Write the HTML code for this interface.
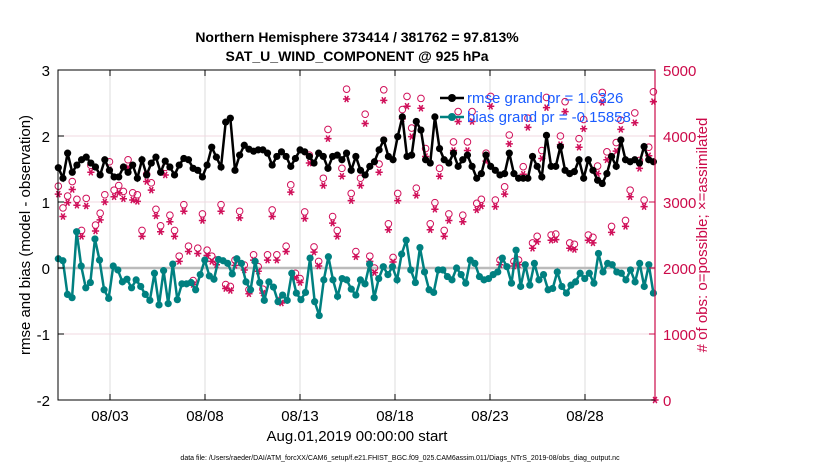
<!DOCTYPE html>
<html><head><meta charset="utf-8"><style>
body{margin:0;background:#fff;}
svg{display:block;font-family:"Liberation Sans",sans-serif;}
</style></head><body>
<svg id="chart" width="830" height="470" viewBox="0 0 830 470" xmlns="http://www.w3.org/2000/svg">
<text x="357" y="42" text-anchor="middle" font-size="14" font-weight="bold">Northern Hemisphere 373414 / 381762 = 97.813%</text>
<text x="357" y="61" text-anchor="middle" font-size="14" font-weight="bold">SAT_U_WIND_COMPONENT @ 925 hPa</text>
<g id="grid"></g>
<g id="marks"></g>
<g id="axes"></g>
<g>
<line x1="440" y1="98" x2="464" y2="98" stroke="#000" stroke-width="2.5"/><circle cx="452" cy="98" r="4" fill="#000"/>
<text x="467" y="103" font-size="15" fill="#1a5cff">rmse grand pr = 1.6326</text>
<line x1="440" y1="117" x2="464" y2="117" stroke="#008080" stroke-width="2.5"/><circle cx="452" cy="117" r="4" fill="#008080"/>
<text x="467" y="122" font-size="15" fill="#1a5cff">bias grand pr = -0.15858</text>
</g>
<text transform="translate(30,235) rotate(-90)" text-anchor="middle" font-size="15">rmse and bias (model - observation)</text>
<text transform="translate(707,235) rotate(-90)" text-anchor="middle" font-size="15" fill="#cc0a4a"># of obs: o=possible; ×=assimilated</text>
<text x="357" y="441" text-anchor="middle" font-size="15">Aug.01,2019 00:00:00 start</text>
<text x="400" y="460" text-anchor="middle" font-size="7">data file: /Users/raeder/DAI/ATM_forcXX/CAM6_setup/f.e21.FHIST_BGC.f09_025.CAM6assim.011/Diags_NTrS_2019-08/obs_diag_output.nc</text>
</svg>
<script>
const rmse=[1.52,1.36,1.74,1.45,1.56,1.64,1.68,1.59,1.53,1.41,1.64,1.48,1.38,1.38,1.53,1.45,1.56,1.36,1.64,1.41,1.59,1.68,1.45,1.62,1.53,1.41,1.56,1.66,1.64,1.51,1.48,1.38,1.56,1.83,1.68,1.53,2.21,2.27,1.48,1.71,1.86,1.80,1.77,1.79,
1.79,1.74,1.56,1.69,1.76,1.69,1.54,1.66,1.79,1.76,1.69,1.59,1.74,1.69,1.51,1.69,1.71,1.64,1.74,1.48,1.69,1.48,1.41,1.54,1.61,1.79,1.94,1.69,1.64,1.99,2.29,1.69,1.71,2.22,2.09,1.64,1.59,2.29,1.81,1.64,1.59,1.74,1.54,
1.64,1.71,1.54,1.36,1.43,1.71,1.54,1.48,1.41,1.43,1.74,1.43,1.36,1.36,1.36,1.69,1.54,1.38,2.01,1.54,1.54,1.84,1.48,1.43,1.46,1.64,1.36,1.64,1.48,1.33,1.28,1.43,1.69,1.54,1.94,1.64,1.61,1.64,1.59,1.84,1.64,1.61];
const bias=[0.14,0.11,-0.40,-0.45,0.55,0.03,-0.30,-0.22,0.44,0.12,-0.33,-0.46,0.03,-0.03,-0.21,-0.17,-0.30,-0.18,-0.28,-0.40,-0.49,-0.08,-0.56,-0.04,-0.54,0.06,-0.48,-0.24,-0.24,-0.22,-0.33,-0.10,0.12,-0.12,-0.17,0.13,0.11,0.07,-0.09,0.14,0.07,-0.21,-0.33,
0.10,-0.22,-0.49,-0.21,-0.29,-0.51,-0.41,-0.49,-0.08,-0.38,-0.48,-0.37,0.15,-0.51,-0.72,-0.18,0.17,-0.18,-0.43,-0.16,-0.18,-0.32,-0.41,-0.18,-0.24,0.06,-0.45,-0.16,0.02,-0.10,0.02,-0.18,0.21,0.42,-0.03,-0.22,0.31,-0.06,-0.33,-0.37,-0.03,-0.03,-0.13,-0.18,
0.0,-0.10,-0.23,0.12,0.07,-0.13,-0.18,-0.16,-0.10,-0.06,0.15,0.02,-0.23,0.27,-0.28,0.05,-0.26,0.07,-0.18,-0.10,-0.33,-0.31,-0.06,-0.28,-0.38,-0.26,-0.21,-0.08,-0.16,-0.08,-0.23,0.22,-0.06,0.07,0.05,-0.06,-0.08,-0.18,-0.03,-0.21,0.07,-0.28,0.05,-0.38];
const possible=[3240,2910,3090,3310,3040,2570,3055,3555,2650,2830,3110,3610,3180,3250,3160,3640,3140,3110,2570,3420,3290,2890,2640,3525,2800,2570,2180,2960,2330,1810,2300,2820,2270,2180,2120,2960,1750,1720,2120,2860,2045,1670,2200,
2020,1680,2200,2880,2200,1525,2330,3260,1920,1840,2850,3710,2320,2100,3360,4100,2780,2570,3510,4710,3130,2250,3360,4330,2180,2000,3575,4700,2670,2160,3130,4400,4600,4120,3210,4570,3810,2670,2990,3510,2570,2820,3910,4370,
2800,3910,4370,2980,3040,3740,4600,3030,2120,3230,4015,2100,2120,3535,4270,2380,2480,3780,4585,2500,2515,4000,4520,2380,2360,3960,4250,2500,2465,3545,4660,3760,2630,3900,4240,2720,3180,4350,3630,3030,3830,4670];
const assimilated=[3120,2780,2990,3190,2950,2480,2940,3450,2560,2730,3000,3490,3080,3140,3050,3520,3030,3010,2480,3310,3180,2790,2550,3410,2700,2480,2100,2860,2250,1750,2220,2720,2190,2100,2050,2860,1690,1660,2040,2760,1970,1610,2120,
1950,1620,2120,2780,2120,1470,2250,3150,1850,1780,2750,3590,2240,2030,3250,3960,2680,2480,3390,4560,3020,2170,3250,4190,2100,1930,3450,4540,2580,2090,3020,4260,4450,3990,3100,4420,3690,2580,2890,3390,2480,2720,3780,4220,
2700,3780,4220,2880,2940,3620,4450,2930,2050,3120,3880,2030,2050,3420,4130,2300,2400,3660,4430,2420,2430,3870,4370,2300,2280,3830,4110,2420,2380,3430,4510,3640,2540,3770,4100,2630,3080,4200,3510,2930,3700,4520,0];
const dateTicks=["08/03","08/08","08/13","08/18","08/23","08/28"];
const dateTickDays=[2,7,12,17,22,27];
const leftTicks=[3,2,1,0,-1,-2];
const rightTicks=[0,1000,2000,3000,4000,5000];

const L=58,R=655,T=70,B=400;
const tStart=-0.72,tEnd=30.6;
const xDay=d=>72+19*d;
const yL=v=>T+(3-v)/5*(B-T);
const yR=v=>B-v/5000*(B-T);
const NS="http://www.w3.org/2000/svg";
function mk(tag,parent,attrs){const e=document.createElementNS(NS,tag);for(const k in attrs)e.setAttribute(k,attrs[k]);parent.appendChild(e);return e;}
const grid=document.getElementById('grid'),marks=document.getElementById('marks'),axes=document.getElementById('axes');
mk('rect',grid,{x:L,y:T,width:R-L,height:B-T,fill:'#fff'});
dateTickDays.forEach((d,i)=>{
 const g=mk('line',grid,{x1:xDay(d),x2:xDay(d),y1:T,y2:B,stroke:'#dcdcdc','stroke-width':1});
 
 
 mk('line',axes,{x1:xDay(d),x2:xDay(d),y1:B,y2:B-6,stroke:'#000'});
 mk('line',axes,{x1:xDay(d),x2:xDay(d),y1:T,y2:T+6,stroke:'#000'});
 const t=mk('text',axes,{x:xDay(d),y:B+21,'text-anchor':'middle','font-size':15});
 t.textContent=dateTicks[i];
 
 
});
rightTicks.forEach(v=>{
 if(v>0&&v<5000){const g=mk('line',grid,{x1:L,x2:R,y1:yR(v),y2:yR(v),stroke:'#f0d8e0','stroke-width':1});
 
 }
 mk('line',axes,{x1:R,x2:R-6,y1:yR(v),y2:yR(v),stroke:'#cc0a4a'});
 const t=mk('text',axes,{x:R+8,y:yR(v)+6,'font-size':15,fill:'#cc0a4a'});
 t.textContent=v;
 
 
});
leftTicks.forEach(v=>{
 mk('line',axes,{x1:L,x2:L+6,y1:yL(v),y2:yL(v),stroke:'#000'});
 const t=mk('text',axes,{x:L-8,y:yL(v)+6,'text-anchor':'end','font-size':15});
 t.textContent=v;
 
 
});
const zl=mk('line',grid,{x1:L,x2:R,y1:yL(0),y2:yL(0),stroke:'#bbb','stroke-width':2.5});


const tx=(i,n)=>xDay(tStart+(tEnd-tStart)*i/(n-1));
possible.forEach((v,i)=>{
 const c=mk('circle',marks,{cx:tx(i,possible.length),cy:yR(v),r:3.3,fill:'none',stroke:'#d0105a','stroke-width':1});
 
 
});
assimilated.forEach((v,i)=>{
 const x=(i===assimilated.length-1)?R:tx(i,assimilated.length-1),y=yR(v),s=3.6,h=s*0.87,q=s*0.5;
 const p=mk('path',marks,{d:`M${x-s},${y}H${x+s}M${x-q},${y-h}L${x+q},${y+h}M${x+q},${y-h}L${x-q},${y+h}`,stroke:'#d0105a','stroke-width':1.5,fill:'none'});
 
 
});
function series(arr,color,name){
 const n=arr.length;
 const p=mk('polyline',marks,{points:arr.map((v,i)=>tx(i,n)+','+yL(v)).join(' '),fill:'none',stroke:color,'stroke-width':2.5});
 
 
 arr.forEach((v,i)=>{
  const c=mk('circle',marks,{cx:tx(i,n),cy:yL(v),r:3.6,fill:color});
  
  
 });
}
series(bias,'#008080','bias');
series(rmse,'#000','rmse');
const box=mk('rect',axes,{x:L,y:T,width:R-L,height:B-T,fill:'none',stroke:'#000','stroke-width':1});


const ra=mk('line',axes,{x1:R,x2:R,y1:T,y2:B,stroke:'#cc0a4a','stroke-width':1.2});


</script>
</body></html>
